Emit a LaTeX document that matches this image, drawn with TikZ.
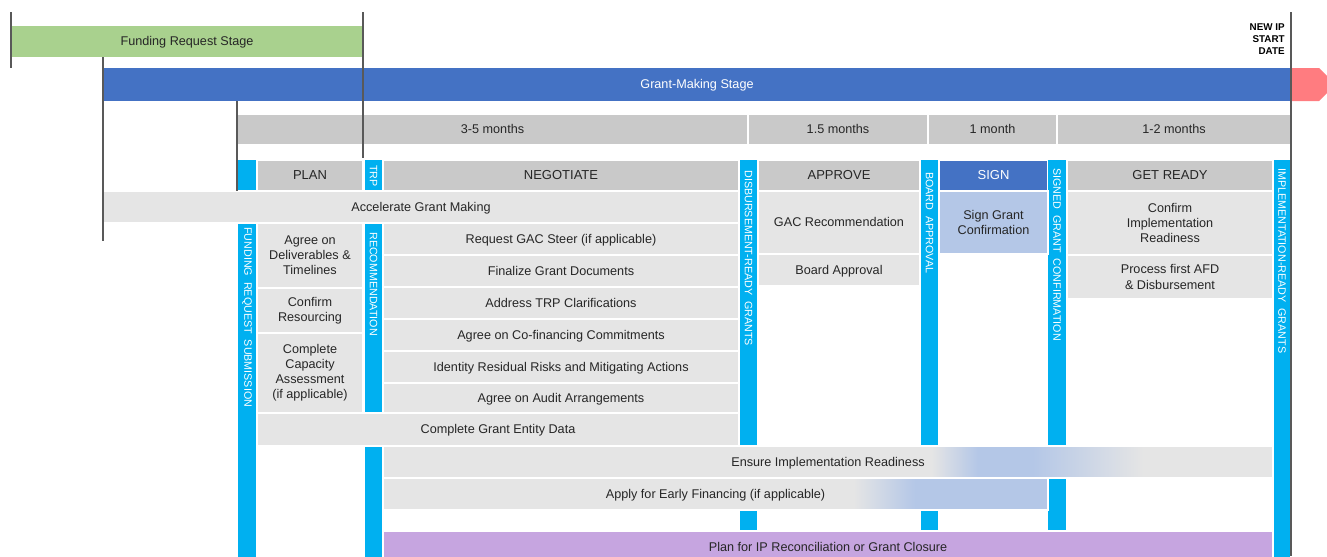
\documentclass[tikz,border=0pt]{standalone}
\usepackage{fontspec}
\setmainfont{Liberation Sans}
\usepackage{xcolor}
\usetikzlibrary{fit,positioning}
\definecolor{stageGreen}{HTML}{A9D18E}
\definecolor{stageBlue}{HTML}{4472C4}
\definecolor{startPink}{HTML}{FF7C80}
\definecolor{headGrey}{HTML}{C9C9C9}
\definecolor{taskGrey}{HTML}{E5E5E5}
\definecolor{signBlue}{HTML}{B4C7E7}
\definecolor{msCyan}{HTML}{00B0F0}
\definecolor{closePurple}{HTML}{C6A5E0}
\definecolor{lineGrey}{HTML}{595959}
\definecolor{textDark}{HTML}{262626}
\pgfdeclarehorizontalshading{ensureShade}{100bp}{color(0bp)=(taskGrey); color(55.8bp)=(taskGrey); color(58.4bp)=(signBlue); color(61.5bp)=(signBlue); color(67.7bp)=(taskGrey); color(100bp)=(taskGrey)}
\pgfdeclarehorizontalshading{earlyShade}{100bp}{color(0bp)=(taskGrey); color(60.4bp)=(taskGrey); color(65bp)=(signBlue); color(100bp)=(signBlue)}

\begin{document}
\begin{tikzpicture}[x=0.02cm, y=-0.02cm]
		\tikzset{cell/.style 2 args = {minimum width=#1*0.02cm, minimum height=#2*0.02cm}}
		\tikzset{box/.style = {rectangle, inner sep=0pt, draw=white, line width=0.8pt, align=center, text=textDark, font=\fontsize{7.2}{8.6}\selectfont}}
		\tikzset{line/.style = {box, text height=6.5pt, text depth=1.5pt}}
		\tikzset{period/.style = {line, fill=headGrey}}
		\tikzset{phase/.style = {line, fill=headGrey, font=\fontsize{7.4}{9}\selectfont}}
		\tikzset{task/.style = {line, fill=taskGrey}}
		\tikzset{block/.style = {box, fill=taskGrey}}
		\tikzset{milestone/.style = {rectangle, inner sep=0pt, fill=msCyan}}
		\tikzset{mlabel/.style = {inner sep=0pt, rotate=-90, anchor=west, text=white, font=\fontsize{6.1}{7}\selectfont}}
		\tikzset{tick/.style = {draw=lineGrey, line width=0.6pt}}

		\useasboundingbox (0,0) rectangle (1327,556);
		\clip (0,0) rectangle (1327,556);

		% stages
		\node[line, draw=none, fill=stageGreen, cell={352}{31}] (S_1) at (187,41.5) {Funding Request Stage};
		\node[line, draw=none, fill=stageBlue, text=white, cell={1188}{33}] (S_2) at (697,84.5) {Grant-Making Stage};
		\fill[startPink] (1291,68) -- (1319,68) -- (1327,76) -- (1327,93) -- (1319,101) -- (1291,101) -- cycle;
		\node[inner sep=0pt, anchor=north east, align=right, text=black, font=\fontsize{5.6}{7}\selectfont\bfseries] (N_1) at (1285,23) {NEW IP\\START\\DATE};

		% durations
		\node[period, cell={511}{31}] (D_1) at (492.5,129.5) {3-5 months};
		\node[period, cell={180}{31}] (D_2) at (838,129.5) {1.5 months};
		\node[period, cell={129}{31}] (D_3) at (992.5,129.5) {1 month};
		\node[period, cell={234}{31}] (D_4) at (1174,129.5) {1-2 months};

		% phases
		\node[phase, cell={106}{31}] (H_1) at (310,175.5) {PLAN};
		\node[phase, cell={356}{31}] (H_2) at (561,175.5) {NEGOTIATE};
		\node[phase, cell={162}{31}] (H_3) at (839,175.5) {APPROVE};
		\node[phase, fill=stageBlue, text=white, cell={109}{31}] (H_4) at (993.5,175.5) {SIGN};
		\node[phase, cell={206}{31}] (H_5) at (1170,175.5) {GET READY};

		% milestones
		\node[milestone, fit={(238,160) (256,191)}] (M_1) {};
		\node[milestone, fit={(238,223) (256,564)}] (M_2) {};
		\node[milestone, fit={(365,160) (382,191)}] (M_3) {};
		\node[milestone, fit={(365,223) (382,412)}] (M_4) {};
		\node[milestone, fit={(365,447) (382,564)}] (M_5) {};
		\node[milestone, fit={(740,160) (757,445)}] (M_6) {};
		\node[milestone, fit={(740,511) (757,530)}] (M_7) {};
		\node[milestone, fit={(921,160) (938,445)}] (M_8) {};
		\node[milestone, fit={(921,511) (938,530)}] (M_9) {};
		\node[milestone, fit={(1048,160) (1066,445)}] (M_10) {};
		\node[milestone, fit={(1048,479) (1066,530)}] (M_11) {};
		\node[milestone, fit={(1274,160) (1290,564)}] (M_12) {};

		\node[mlabel] (L_1) at (247,227) {FUNDING\ \ REQUEST\ \ SUBMISSION};
		\node[mlabel] (L_2) at (373.5,165) {TRP};
		\node[mlabel] (L_3) at (373.5,232) {RECOMMENDATION};
		\node[mlabel] (L_4) at (748.5,170) {DISBURSEMENT-READY\ \ GRANTS};
		\node[mlabel] (L_5) at (929.5,172) {BOARD\ \ APPROVAL};
		\node[mlabel] (L_6) at (1057,168) {SIGNED\ \ GRANT\ \ CONFIRMATION};
		\node[mlabel] (L_7) at (1282,168) {IMPLEMENTATION-READY\ \ GRANTS};

		% tasks
		\node[task, cell={636}{32}] (T_0) at (421,207) {Accelerate Grant Making};

		\node[block, cell={106}{65}] (P_1) at (310,255.5) {Agree on\\Deliverables \&\\Timelines};
		\node[block, cell={106}{45}] (P_2) at (310,310.5) {Confirm\\Resourcing};
		\node[block, cell={106}{80}] (P_3) at (310,373) {Complete\\Capacity\\Assessment\\(if applicable)};

		\node[task, cell={356}{32}] (G_1) at (561,239) {Request GAC Steer (if applicable)};
		\node[task, cell={356}{32}] (G_2) at (561,271) {Finalize Grant Documents};
		\node[task, cell={356}{32}] (G_3) at (561,303) {Address TRP Clarifications};
		\node[task, cell={356}{32}] (G_4) at (561,335) {Agree on Co-financing Commitments};
		\node[task, cell={356}{32}] (G_5) at (561,367) {Identity Residual Risks and Mitigating Actions};
		\node[task, cell={356}{30}] (G_6) at (561,398) {Agree on Audit Arrangements};
		\node[task, cell={482}{33}] (G_7) at (498,429.5) {Complete Grant Entity Data};

		\node[task, cell={162}{63}] (A_1) at (839,222.5) {GAC Recommendation};
		\node[task, cell={162}{32}] (A_2) at (839,270) {Board Approval};

		\node[block, fill=signBlue, cell={109}{63}] (C_1) at (993.5,222.5) {Sign Grant\\Confirmation};

		\node[block, cell={206}{64}] (R_1) at (1170,223) {Confirm\\Implementation\\Readiness};
		\node[block, cell={206}{44}] (R_2) at (1170,277) {Process first AFD\\\& Disbursement};

		\node[task, shading=ensureShade, cell={890}{32}] (E_1) at (828,462) {Ensure Implementation Readiness};
		\node[task, shading=earlyShade, cell={665}{32}] (E_2) at (715.5,494) {Apply for Early Financing (if applicable)};
		\node[task, fill=closePurple, cell={890}{32}] (E_3) at (828,547) {Plan for IP Reconciliation or Grant Closure};

		% time markers
		\draw[tick] (11,12) -- (11,68);
		\draw[tick] (363,12) -- (363,158);
		\draw[tick] (103,57) -- (103,241);
		\draw[tick] (237,101) -- (237,191);
		\draw[tick] (1291,12) -- (1291,556);

	\end{tikzpicture}
\end{document}
